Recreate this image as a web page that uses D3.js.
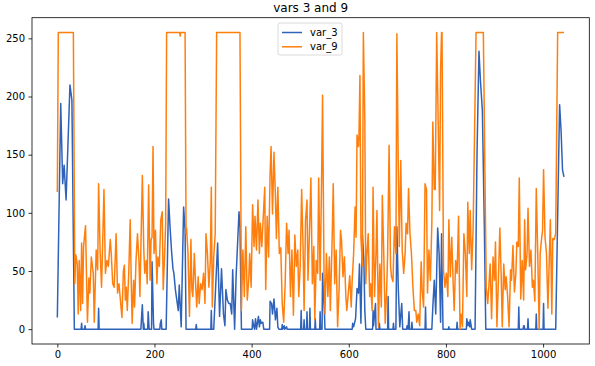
<!DOCTYPE html>
<html>
<head>
<meta charset="utf-8">
<script src="https://cdn.jsdelivr.net/npm/d3@7"></script>
<style>
  body { margin: 0; background: #fff; }
  text { font-family: "DejaVu Sans", sans-serif; }
</style>
</head>
<body>
<svg id="chart" width="595" height="366"></svg>
<script>
// series (vertices only: index, value)
const var3X = [0,7,11,14,18,26,30,35,49,50,51,56,57,58,84,85,86,
  172,175,177,178,179,186,187,189,194,195,198,199,211,212,214,215,224,229,232,235,238,240,243,246,249,251,255,260,263,265,285,286,287,
  316,317,318,322,330,334,338,342,345,347,350,353,356,359,361,365,368,374,376,379,
  401,402,404,406,408,410,414,416,418,420,423,425,437,438,441,443,446,449,452,454,456,462,463,464,467,468,472,473,
  501,502,503,507,508,509,513,514,515,519,520,521,530,531,532,540,541,542,545,546,550,551,
  607,608,610,614,617,620,622,625,628,631,633,635,649,650,651,655,656,662,663,664,680,681,682,691,692,693,697,699,702,705,709,711,719,720,722,724,725,729,730,731,
  757,758,759,771,773,776,779,783,786,789,791,794,805,806,807,822,823,824,842,843,845,847,849,850,853,860,864,868,871,875,879,882,
  949,950,951,959,960,961,962,968,969,970,985,986,987,1000,1001,1002,1026,1034,1037,1040,1043];
const var3Y = [10,194,125,141,111,210,197,0,0,5,0,0,3,0,0,18,0,
  0,21,0,5,0,0,15,0,0,58,5,0,0,5,8,0,0,112,88,68,52,48,34,25,16,38,2,105,85,0,0,4,0,
  0,16,0,0,74,11,52,13,3,34,25,22,22,13,51,0,45,101,88,0,
  0,8,3,0,9,0,11,2,8,5,6,0,0,24,22,13,26,8,18,2,0,0,4,0,3,0,2,0,
  0,16,0,0,8,0,0,15,0,0,18,0,0,9,0,0,15,0,0,48,13,0,
  0,5,2,9,35,31,56,5,81,60,16,0,0,16,3,22,0,0,5,0,0,28,0,0,5,0,0,88,34,2,22,0,0,3,0,15,0,0,6,0,
  0,19,0,0,19,42,13,87,65,6,82,0,0,2,0,0,6,0,0,9,3,6,2,8,0,0,151,239,214,188,90,0,
  0,19,0,0,3,3,0,0,9,0,0,13,0,0,22,0,0,193,171,137,131];

const var9X = [0,2,33,36,38,41,43,45,48,50,52,54,58,62,65,67,70,74,76,80,83,85,88,91,93,96,99,102,105,109,111,114,117,121,124,127,
  130,133,136,138,140,142,144,147,150,152,154,157,159,162,165,168,170,175,178,180,183,185,188,191,193,195,197,199,202,205,207,210,213,216,218,221,223,
  225,252,253,254,263,265,266,269,272,275,277,279,282,285,287,290,292,295,298,301,304,306,309,312,315,317,319,322,325,
  328,376,379,382,385,388,391,394,396,399,402,405,407,410,413,416,418,421,424,427,429,432,435,438,440,443,446,449,451,454,457,
  460,463,466,469,472,475,477,480,483,486,489,492,495,497,500,503,506,508,511,514,516,519,522,525,528,530,533,536,538,541,544,546,549,551,554,557,560,562,566,568,571,574,577,580,583,585,588,591,594,596,599,602,605,607,610,613,615,617,620,621,623,625,628,
  630,633,635,637,640,643,645,648,650,653,656,658,661,664,667,669,672,675,678,680,683,686,688,691,694,697,699,702,704,707,710,713,716,718,721,723,726,729,732,735,738,740,743,746,749,751,754,757,760,762,765,768,771,773,776,778,
  781,784,787,789,791,792,795,798,801,804,806,809,812,815,817,820,823,826,829,831,834,837,840,843,845,848,850,853,856,
  862,877,883,886,888,891,894,897,900,902,905,908,911,914,916,919,922,924,927,930,933,935,938,941,944,946,949,951,954,957,960,962,964,967,969,972,975,978,980,983,986,989,992,994,997,999,1001,1004,1007,1010,1012,1015,1018,1020,1023,1026,1030,1043];
const var9Y = [118,255,255,39,64,56,13,59,16,74,22,71,89,6,44,31,62,48,6,68,51,125,68,36,68,120,48,59,54,77,65,39,36,82,31,39,
  24,10,50,55,25,36,16,48,94,45,5,42,19,59,82,59,28,132,68,48,59,39,124,42,77,79,157,65,85,39,62,54,94,101,34,65,90,
  255,255,252,255,255,82,87,65,11,77,34,28,65,36,19,45,22,39,34,48,22,82,65,36,59,122,19,62,82,
  255,255,16,68,28,88,25,42,65,36,107,71,97,68,111,65,91,71,97,122,34,97,62,134,157,99,152,114,78,122,65,
  70,22,6,39,91,65,85,28,68,12,81,54,68,28,54,120,68,16,94,111,42,82,130,39,71,8,59,48,130,42,128,201,48,13,65,28,62,16,82,125,39,68,2,34,85,77,45,62,28,16,31,46,19,42,65,105,79,167,157,167,218,79,54,
  255,180,39,62,82,28,39,16,122,28,65,102,2,56,19,115,65,5,34,65,158,54,45,41,88,65,254,137,71,145,68,48,65,91,82,121,82,65,36,16,16,6,13,3,58,34,19,125,120,31,68,42,91,178,120,120,
  255,180,102,223,255,255,51,36,48,28,94,45,79,38,16,59,48,97,0,13,2,82,65,28,109,65,102,51,87,
  255,255,36,22,34,56,9,62,42,75,2,42,87,42,2,56,34,45,28,2,51,42,72,32,48,75,71,130,26,59,25,94,51,65,104,54,68,36,42,24,121,65,0,65,78,85,137,79,65,18,48,94,13,78,77,82,255,255];

const seriesNames = ["var_3", "var_9"];
const seriesColors = ["#2f62b9", "#ff7f0e"];
const xTicks = [0, 200, 400, 600, 800, 1000];
const yTicks = [0, 50, 100, 150, 200, 250];

const svg = d3.select("#chart");

// plot box, in pixels
const plotL = 32, plotR = 589.3, plotT = 17.7, plotB = 344;
const xMax = 1043, yMax = 255;

const x = d3.scaleLinear()
  .domain([-0.05 * xMax, xMax * 1.05])
  .range([plotL, plotR]);
const y = d3.scaleLinear()
  .domain([-0.05 * yMax, yMax * 1.05])
  .range([plotB, plotT]);

// axes
const xAxis = svg.append("g")
  .attr("transform", `translate(0,${plotB})`)
  .call(d3.axisBottom(x).tickValues(xTicks).tickFormat(d3.format("d"))
    .tickSizeOuter(0).tickSize(3.5).tickPadding(3.5));
const yAxis = svg.append("g")
  .attr("transform", `translate(${plotL},0)`)
  .call(d3.axisLeft(y).tickValues(yTicks).tickFormat(d3.format("d"))
    .tickSizeOuter(0).tickSize(3.5).tickPadding(3.5));

[xAxis, yAxis].forEach((g) => {
  g.select(".domain").remove();
  g.selectAll("line").attr("stroke", "#000").attr("stroke-width", 0.8);
  g.selectAll("text")
    .attr("fill", "#000")
    .style("font-family", "'DejaVu Sans', sans-serif")
    .style("font-size", "10px");
});

// lines
const line = d3.line()
  .x((d) => x(d[0]))
  .y((d) => y(d[1]));

const series = [
  d3.zip(var3X, var3Y),
  d3.zip(var9X, var9Y)
];

const plot = svg.append("g");
series.forEach((pts, i) => {
  plot.append("path")
    .datum(pts)
    .attr("fill", "none")
    .attr("stroke", seriesColors[i])
    .attr("stroke-width", 1.5)
    .attr("stroke-linejoin", "round")
    .attr("d", line);
});

// frame
svg.append("rect")
  .attr("x", plotL).attr("y", plotT)
  .attr("width", plotR - plotL).attr("height", plotB - plotT)
  .attr("fill", "none")
  .attr("stroke", "#000")
  .attr("stroke-width", 0.8);

// title
svg.append("text")
  .attr("x", (plotL + plotR) / 2)
  .attr("y", 12)
  .attr("text-anchor", "middle")
  .style("font-size", "12px")
  .text("vars 3 and 9");

// legend
const legend = svg.append("g").attr("transform", "translate(278,23)");
legend.append("rect")
  .attr("width", 64).attr("height", 32)
  .attr("rx", 2)
  .attr("fill", "#fff").attr("fill-opacity", 0.8)
  .attr("stroke", "#d0d0d0").attr("stroke-width", 0.8);
seriesNames.forEach((name, i) => {
  const row = legend.append("g").attr("transform", `translate(0,${9.5 + i * 14.3})`);
  row.append("line")
    .attr("x1", 4).attr("x2", 24)
    .attr("stroke", seriesColors[i])
    .attr("stroke-width", 1.5);
  row.append("text")
    .attr("x", 32).attr("y", 3.5)
    .style("font-size", "10px")
    .text(name);
});
</script>
</body>
</html>
